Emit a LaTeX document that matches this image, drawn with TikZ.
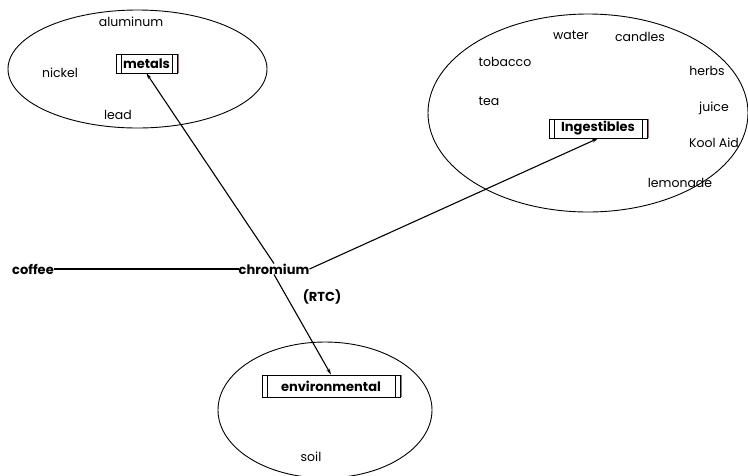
\documentclass[tikz,border=0pt]{standalone}
\usepackage{fontspec}
\setmainfont{Poppins}
\usetikzlibrary{arrows.meta,shapes.geometric}
\begin{document}
\begin{tikzpicture}[x=1pt,y=-1pt,
  lbl/.style={font=\fontsize{12.5}{14}\selectfont, inner sep=0pt},
  blbl/.style={font=\fontsize{13}{15}\selectfont\bfseries, inner sep=0pt},
  grp/.style={draw, line width=0.9pt},
  cat/.style={draw, line width=0.8pt, fill=white, inner sep=0pt,
    font=\fontsize{13}{15}\selectfont\bfseries,
    path picture={
      \draw[line width=0.8pt] ([xshift=5pt]path picture bounding box.north west) -- ([xshift=5pt]path picture bounding box.south west);
      \draw[line width=0.8pt] ([xshift=-5pt]path picture bounding box.north east) -- ([xshift=-5pt]path picture bounding box.south east);
    }},
  link/.style={line width=1.1pt},
  arr/.style={line width=1.1pt, -{Stealth[length=6pt,width=3.5pt]}},
  shade/.style={color={rgb,255:red,150;green,110;blue,110}, line width=0.7pt}
]
\useasboundingbox (0,0) rectangle (748,475);
% group ellipses
\node[grp, ellipse, minimum width=259pt, minimum height=118pt] (e1) at (137.5,69) {};
\node[grp, ellipse, minimum width=320pt, minimum height=198pt] (e2) at (588,113) {};
\node[grp, ellipse, minimum width=214pt, minimum height=136pt] (e3) at (325,410) {};
% category boxes
\node[cat, minimum width=61pt, minimum height=19pt] (metals) at (146.5,63.5) {metals};
\node[cat, minimum width=98pt, minimum height=19pt] (ing) at (598,128.5) {Ingestibles};
\node[cat, minimum width=138pt, minimum height=22pt] (env) at (331,386) {environmental};
% shadows on right edges
\draw[shade] ([xshift=1pt]metals.north east) -- ([xshift=1pt]metals.south east);
\draw[shade] ([xshift=1pt]ing.north east) -- ([xshift=1pt]ing.south east);
\draw[shade] ([xshift=1pt]env.north east) -- ([xshift=1pt]env.south east);
% members
\node[lbl] (aluminum) at (131,22) {aluminum};
\node[lbl] (nickel) at (60,73) {nickel};
\node[lbl] (lead) at (118,115) {lead};
\node[lbl] (water) at (571,35) {water};
\node[lbl] (candles) at (640,37) {candles};
\node[lbl] (tobacco) at (505,62) {tobacco};
\node[lbl] (herbs) at (707,71) {herbs};
\node[lbl] (tea) at (489,101) {tea};
\node[lbl] (juice) at (714,108) {juice};
\node[lbl] (koolaid) at (714,143) {Kool Aid};
\node[lbl] (lemonade) at (680,183) {lemonade};
\node[lbl] (soil) at (311,457) {soil};
% central
\node[blbl] (coffee) at (33,269) {coffee};
\node[blbl] (chromium) at (274,269) {chromium};
\node[blbl] (rtc) at (322,297) {(RTC)};
% connectors
\draw[link] (coffee.east) -- (chromium.west);
\draw[arr] (chromium.north) -- (metals.south);
\draw[arr] (chromium.east) -- (ing.south);
\draw[arr] (chromium.south) -- (env.north);
\end{tikzpicture}
\end{document}
